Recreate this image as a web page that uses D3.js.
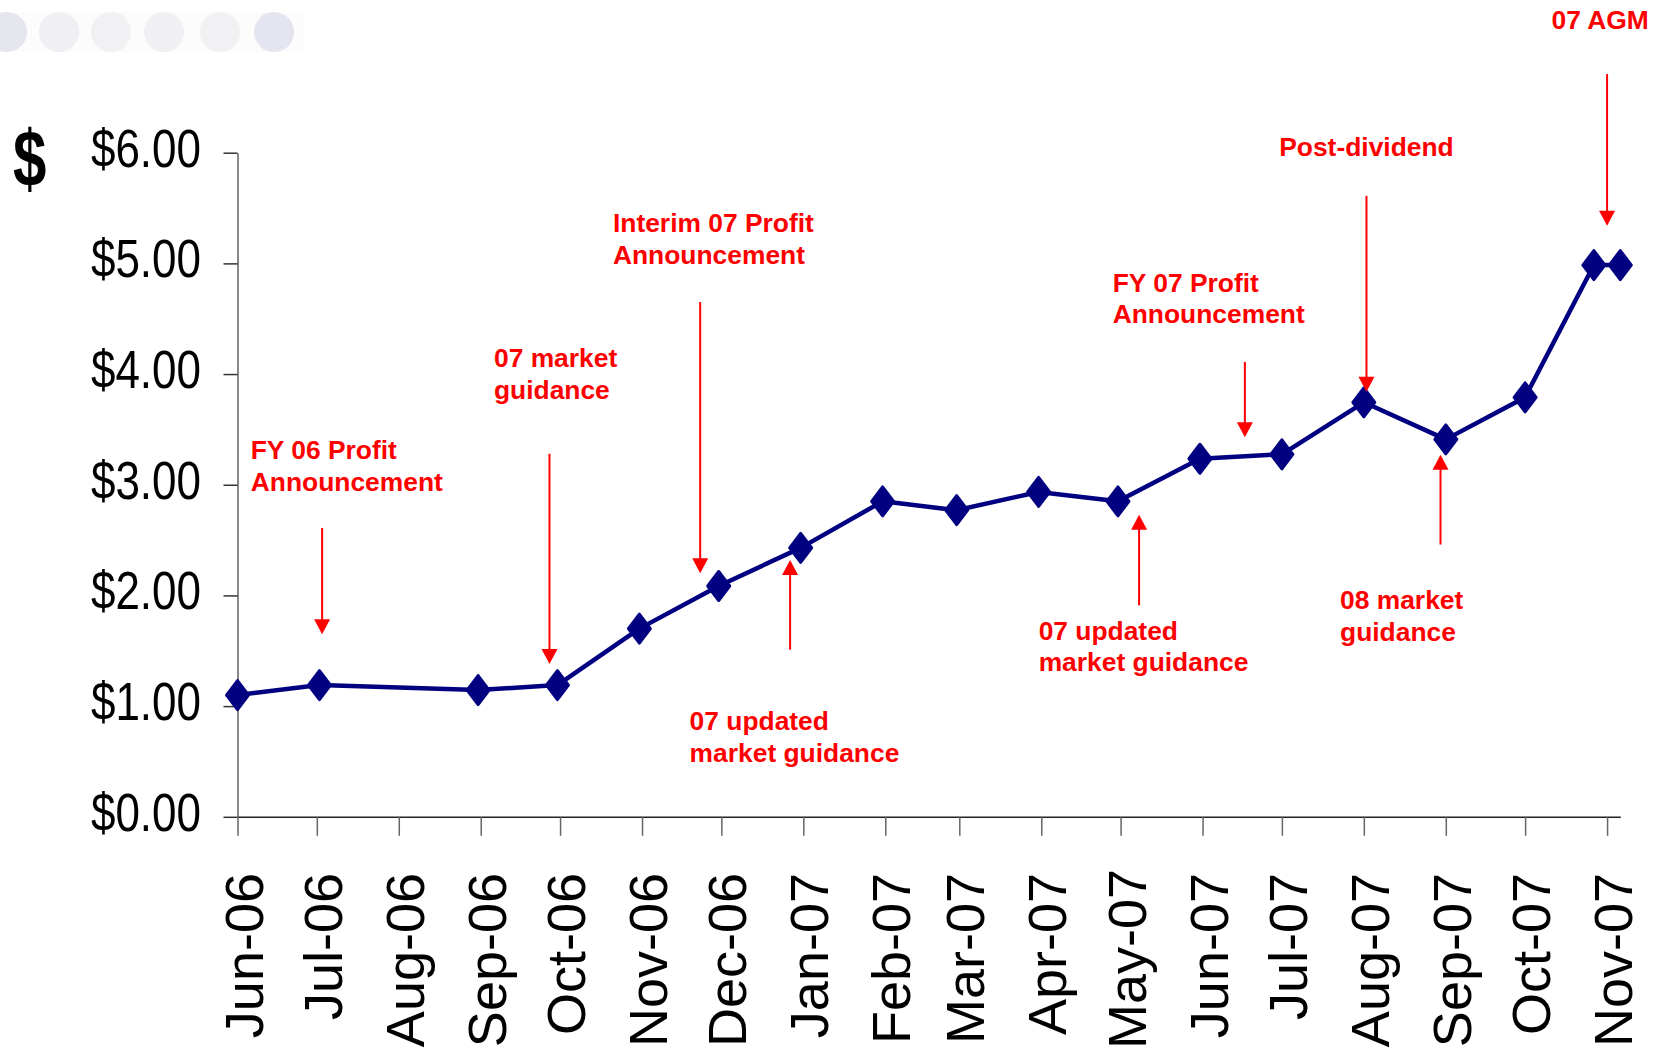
<!DOCTYPE html>
<html>
<head>
<meta charset="utf-8">
<script src="https://cdn.jsdelivr.net/npm/d3@7"></script>
<style>
  html, body { margin: 0; padding: 0; background: #ffffff; }
  svg { display: block; }
</style>
</head>
<body>
<svg id="chart" width="1657" height="1053"></svg>
<script>
// ---------- DATA ----------
const dates = ["2006-06-01","2006-07-02","2006-08-31","2006-09-30","2006-10-31","2006-11-30",
               "2006-12-31","2007-01-31","2007-02-28","2007-03-31","2007-04-30","2007-05-31",
               "2007-07-01","2007-08-01","2007-09-01","2007-10-01","2007-10-27","2007-11-06"];
const prices = [1.10, 1.19, 1.145, 1.19, 1.70, 2.085,
                2.43, 2.85, 2.77, 2.935, 2.85, 3.235,
                3.275, 3.745, 3.41, 3.79, 4.985, 4.985];

const xTickDates = ["2006-06-01","2006-07-01","2006-08-01","2006-09-01","2006-10-01","2006-11-01",
                    "2006-12-01","2007-01-01","2007-02-01","2007-03-01","2007-04-01","2007-05-01",
                    "2007-06-01","2007-07-01","2007-08-01","2007-09-01","2007-10-01","2007-11-01"];
const yTicks = [0, 1, 2, 3, 4, 5, 6];
const yAxisTitle = "$";

// annotation texts with anchor date / value (baseline of first line)
const noteLines = [
  ["FY 06 Profit", "Announcement"],
  ["07 market", "guidance"],
  ["Interim 07 Profit", "Announcement"],
  ["07 updated", "market guidance"],
  ["07 updated", "market guidance"],
  ["FY 07 Profit", "Announcement"],
  ["Post-dividend"],
  ["07 AGM"],
  ["08 market", "guidance"]
];
const noteDates  = ["2006-06-06","2006-09-06","2006-10-21","2006-11-19","2007-03-31","2007-04-28","2007-06-30","2007-10-11","2007-07-23"];
const noteValues = [3.23, 4.06, 5.28, 0.78, 1.60, 4.745, 5.97, 7.115, 1.875];

// arrows: date, start value, tip value
const arrowDates = ["2006-07-03","2006-09-27","2006-11-23","2006-12-27","2007-05-08","2007-06-17","2007-08-02","2007-11-01","2007-08-30"];
const arrowFrom  = [2.61, 3.28, 4.65, 1.51, 1.91, 4.11, 5.61, 6.71, 2.46];
const arrowTo    = [1.65, 1.38, 2.20, 2.32, 2.73, 3.43, 3.84, 5.34, 3.27];

// ---------- SETUP ----------
const parse = d3.utcParse("%Y-%m-%d");
const svg = d3.select("#chart");

const x = d3.scaleUtc()
  .domain([parse("2006-06-01"), parse("2007-11-06")])
  .range([237.5, 1620.3]);
const y = d3.scaleLinear().domain([0, 6]).range([816.8, 152.7]);

// decorative faint circles top-left
const deco = svg.append("g");
deco.append("rect").attr("x", 0).attr("y", 12).attr("width", 303).attr("height", 40).attr("fill", "#fcfcfc");
const decoCx = [7, 59, 111, 164, 220, 274];
const decoFill = ["#e6e6ef", "#efeff4", "#f1f1f3", "#f0f0f3", "#f1f1f3", "#e5e5ef"];
deco.selectAll("circle").data(decoCx).join("circle")
  .attr("cx", d => d).attr("cy", 32).attr("r", 20)
  .attr("fill", (d, i) => decoFill[i]);

// ---------- AXES ----------
const fontFam = "'Liberation Sans', Arial, Helvetica, sans-serif";

const yAxis = svg.append("g")
  .attr("transform", `translate(${x.range()[0]},0)`)
  .call(d3.axisLeft(y).tickValues(yTicks).tickSize(14).tickSizeOuter(0).tickFormat(() => ""));
yAxis.select(".domain").attr("stroke", "#888").attr("stroke-width", 2);
yAxis.selectAll(".tick line").attr("stroke", "#333").attr("stroke-width", 1.5);

const yFmt = d3.format("$.2f");
svg.append("g").selectAll("text").data(yTicks).join("text")
  .attr("transform", d => `translate(201,${y(d) + 14}) scale(0.83,1)`)
  .attr("text-anchor", "end")
  .attr("font-family", fontFam)
  .attr("font-size", 53)
  .attr("fill", "#000")
  .text(d => yFmt(d));

const xAxis = svg.append("g")
  .attr("transform", `translate(0,${y(0)})`)
  .call(d3.axisBottom(x).tickValues(xTickDates.map(parse)).tickSize(19).tickSizeOuter(0).tickFormat(() => ""));
xAxis.select(".domain").attr("stroke", "#222").attr("stroke-width", 1.5);
xAxis.selectAll(".tick line").attr("stroke", "#666").attr("stroke-width", 1.5);

const xFmt = d3.utcFormat("%b-%y");
const labelTop = 873, labelBottomMax = 1049;
svg.append("g").selectAll("text").data(xTickDates.map(parse)).join("text")
  .attr("text-anchor", "end")
  .attr("font-family", fontFam)
  .attr("font-size", 54)
  .attr("fill", "#000")
  .text(d => xFmt(d))
  .attr("transform", function(d) {
    const len = this.getComputedTextLength();
    const top = Math.min(labelTop, labelBottomMax - len);
    return `translate(${x(d) + 25},${top}) rotate(-90)`;
  });

// big $ title
svg.append("text")
  .attr("transform", "translate(13,186) scale(0.75,1)")
  .attr("font-family", fontFam)
  .attr("font-weight", "bold")
  .attr("font-size", 80)
  .attr("fill", "#000")
  .text(yAxisTitle);

// ---------- SERIES ----------
const pts = dates.map((d, i) => ({ date: parse(d), v: prices[i] }));
svg.append("path")
  .datum(pts)
  .attr("fill", "none")
  .attr("stroke", "#000080")
  .attr("stroke-width", 4.5)
  .attr("stroke-linejoin", "round")
  .attr("d", d3.line().x(d => x(d.date)).y(d => y(d.v)));

svg.append("g").selectAll("path").data(pts).join("path")
  .attr("transform", d => `translate(${x(d.date)},${y(d.v)})`)
  .attr("d", "M0,-14.5L11,0L0,14.5L-11,0Z")
  .attr("fill", "#000080")
  .attr("stroke", "#000080")
  .attr("stroke-width", 3)
  .attr("stroke-linejoin", "round");

// ---------- ANNOTATIONS ----------
const red = "#ff0000";
const ann = svg.append("g");
arrowDates.forEach((d, i) => {
  const ax = x(parse(d));
  const y0 = y(arrowFrom[i]);
  const y1 = y(arrowTo[i]);
  const dir = y1 > y0 ? 1 : -1;   // 1 = pointing down
  const headLen = 15, headHalf = 8;
  ann.append("line")
    .attr("x1", ax).attr("x2", ax)
    .attr("y1", y0).attr("y2", y1 - dir * (headLen - 1))
    .attr("stroke", red).attr("stroke-width", 2);
  ann.append("path")
    .attr("d", `M${ax - headHalf},${y1 - dir * headLen}L${ax + headHalf},${y1 - dir * headLen}L${ax},${y1}Z`)
    .attr("fill", red);
});

noteLines.forEach((lines, i) => {
  const t = ann.append("text")
    .attr("x", x(parse(noteDates[i])))
    .attr("y", y(noteValues[i]))
    .attr("font-family", fontFam)
    .attr("font-weight", "bold")
    .attr("font-size", 26.4)
    .attr("fill", red);
  lines.forEach((ln, j) => {
    t.append("tspan")
      .attr("x", x(parse(noteDates[i])))
      .attr("dy", j === 0 ? 0 : 31.3)
      .text(ln);
  });
});
</script>
</body>
</html>
